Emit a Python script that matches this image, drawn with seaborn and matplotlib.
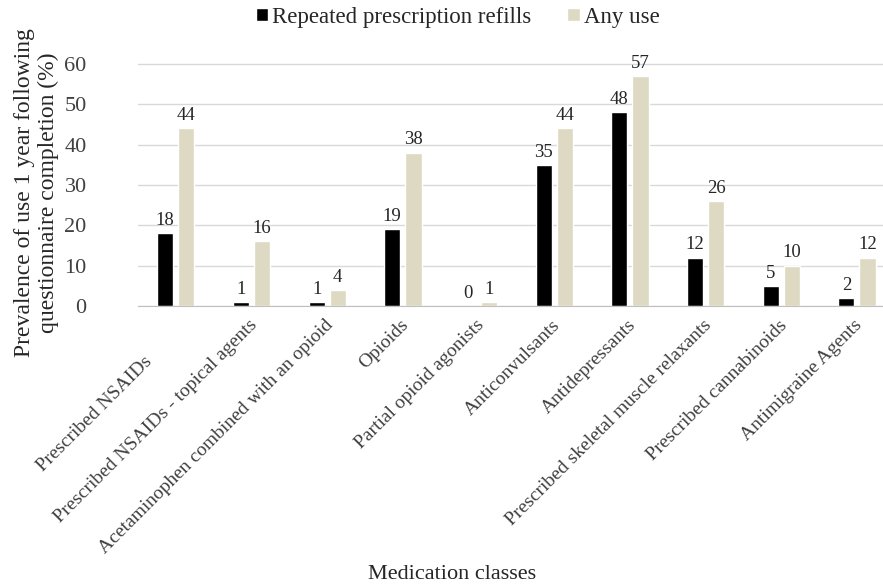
import pandas as pd
import seaborn as sns
import matplotlib.pyplot as plt
import matplotlib.transforms as mtransforms

classes = ['Prescribed NSAIDs', 'Prescribed NSAIDs - topical agents',
           'Acetaminophen combined with an opioid', 'Opioids',
           'Partial opioid agonists', 'Anticonvulsants', 'Antidepressants',
           'Prescribed skeletal muscle relaxants', 'Prescribed cannabinoids',
           'Antimigraine Agents']
refills = [18, 1, 1, 19, 0, 35, 48, 12, 5, 2]
any_use = [44, 16, 4, 38, 1, 44, 57, 26, 10, 12]
series = ['Repeated prescription refills', 'Any use']

df = pd.DataFrame({
    'Medication': classes * 2,
    'Prevalence': refills + any_use,
    'Measure': [series[0]] * len(classes) + [series[1]] * len(classes),
})

sns.set_style('white')
plt.rcParams['font.family'] = ['Liberation Serif', 'DejaVu Serif']

fig = plt.figure(figsize=(8.83, 5.87), dpi=100)
ax = fig.add_axes([0.1563, 0.4787, 0.857, 0.4195])

sns.barplot(data=df, x='Medication', y='Prevalence', hue='Measure',
            palette=['#000000', '#DDD9C3'], width=0.56, gap=0.24,
            saturation=1, ax=ax, legend=True)

for c in ax.containers:
    ax.bar_label(c, fmt='%d', padding=3, fontsize=13.5, color='#262626')

ax.set_ylim(0, 61)
ax.set_yticks(range(0, 61, 10))
ax.yaxis.grid(True, color='#D9D9D9', linewidth=1)
ax.set_axisbelow(True)
for s in ['top', 'right', 'left']:
    ax.spines[s].set_visible(False)
ax.spines['bottom'].set_color('#BFBFBF')
ax.tick_params(axis='both', length=0, colors='#404040')
ax.tick_params(axis='y', pad=37, labelsize=16)
ax.set_xlabel('')
ax.set_ylabel('')

ax.set_xticks(range(len(classes)))
ax.set_xticklabels(classes, rotation=45, ha='right', va='center',
                   rotation_mode='anchor', fontsize=14)
ax.tick_params(axis='x', pad=12)
shift = mtransforms.ScaledTranslation(3 / 100, 0, fig.dpi_scale_trans)
for i, lab in enumerate(ax.get_xticklabels()):
    if i == 0:
        # first label sits lower-left in the original
        lab.set_transform(lab.get_transform() + mtransforms.ScaledTranslation(-26 / 100, -36 / 100, fig.dpi_scale_trans))
    else:
        lab.set_transform(lab.get_transform() + shift)

handles, labels = ax.get_legend_handles_labels()
ax.get_legend().remove()
fig.legend(handles, labels, loc='upper center', bbox_to_anchor=(0.518, 1.024),
           ncol=2, frameon=False, fontsize=16.5, handlelength=0.55,
           handleheight=0.55, handletextpad=0.15, columnspacing=1.6)

fig.text(0.041, 0.672, 'Prevalence of use 1 year following\nquestionnaire completion (%)',
         rotation=90, ha='center', va='center', multialignment='center',
         fontsize=17, color='#262626', linespacing=1.15)
fig.text(0.512, 0.022, 'Medication classes', ha='center', va='center',
         fontsize=16, color='#262626')

plt.savefig('out.png', dpi=100)
